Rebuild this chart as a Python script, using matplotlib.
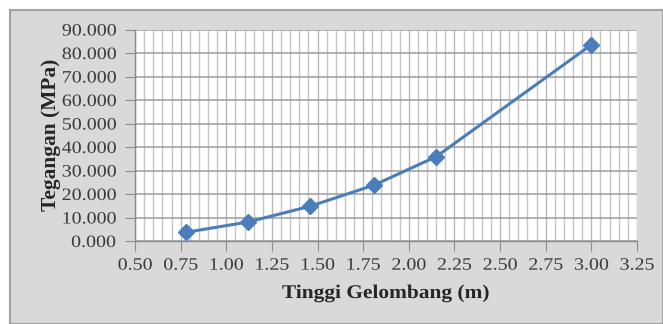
import matplotlib
matplotlib.use("Agg")
import matplotlib.pyplot as plt
from matplotlib.patches import Rectangle
from matplotlib.patheffects import AbstractPathEffect
from matplotlib.transforms import Affine2D
from matplotlib.ticker import MultipleLocator, FormatStrFormatter

# Wave height (m) vs. stress (MPa)
tinggi_gelombang = [0.78, 1.12, 1.46, 1.81, 2.15, 3.00]
tegangan = [3.7, 8.1, 14.8, 23.8, 35.9, 83.5]

x_label = "Tinggi Gelombang (m)"
y_label = "Tegangan (MPa)"

plt.rcParams["font.family"] = ["Liberation Serif", "DejaVu Serif"]


class Widen(AbstractPathEffect):
    """Draw text glyphs stretched horizontally about their centre."""

    def __init__(self, sx):
        super().__init__()
        self._sx = sx

    def draw_path(self, renderer, gc, tpath, affine, rgbFace=None):
        ext = tpath.get_extents()
        cx = 0.5 * (ext.x0 + ext.x1)
        stretch = Affine2D().translate(-cx, 0).scale(self._sx, 1).translate(cx, 0)
        renderer.draw_path(gc, tpath, stretch + affine, rgbFace)


fig = plt.figure(figsize=(6.63, 3.24), dpi=100, facecolor="white")

# grey chart frame with a white margin at top and left
frame = Rectangle((10 / 663, 0), 1 - 10 / 663, 1 - 10 / 324,
                  transform=fig.transFigure, facecolor="#d9d9d9",
                  edgecolor="#a3a3a3", linewidth=1.5, zorder=-10)
fig.patches.append(frame)

ax = fig.add_axes([135 / 663, 1 - 241 / 324, (637 - 135) / 663, (241 - 29.5) / 324])
ax.set_facecolor("white")

ax.plot(tinggi_gelombang, tegangan, color="#4a7ebb", linewidth=2.2,
        marker="D", markersize=8, markerfacecolor="#4a7ebb",
        markeredgecolor="#4a7ebb", zorder=5, clip_on=False)

ax.set_xlim(0.5, 3.25)
ax.set_ylim(0, 90)
ax.xaxis.set_major_locator(MultipleLocator(0.25))
ax.xaxis.set_minor_locator(MultipleLocator(0.05))
ax.yaxis.set_major_locator(MultipleLocator(10))
ax.xaxis.set_major_formatter(FormatStrFormatter("%.2f"))
ax.yaxis.set_major_formatter(FormatStrFormatter("%.3f"))

ax.grid(which="minor", axis="x", color="#c6c6c6", linewidth=1.0)
ax.grid(which="major", axis="x", color="#b8b8b8", linewidth=1.0)
ax.grid(which="major", axis="y", color="#9c9c9c", linewidth=1.1)
ax.set_axisbelow(True)

for side in ("top", "right"):
    ax.spines[side].set_visible(False)
for side in ("left", "bottom"):
    ax.spines[side].set_color("#8c8c8c")
    ax.spines[side].set_linewidth(1.0)

ax.tick_params(which="major", direction="out", length=7, color="#8c8c8c",
               labelsize=12.5, labelcolor="#3a3a3a")
ax.tick_params(axis="y", which="major", pad=9)
ax.tick_params(axis="x", which="major", pad=5)
ax.tick_params(which="minor", length=0)

ax.set_xlabel(x_label, fontsize=14, fontweight="bold", color="#262626", labelpad=8,
              path_effects=[Widen(1.1)])
ax.set_ylabel(y_label, fontsize=15.4, fontweight="bold", color="#262626", labelpad=3)

fig.canvas.draw()
for lbl in ax.get_xticklabels() + ax.get_yticklabels():
    lbl.set_path_effects([Widen(1.15)])

fig.savefig("out.png", dpi=100, facecolor=fig.get_facecolor())
